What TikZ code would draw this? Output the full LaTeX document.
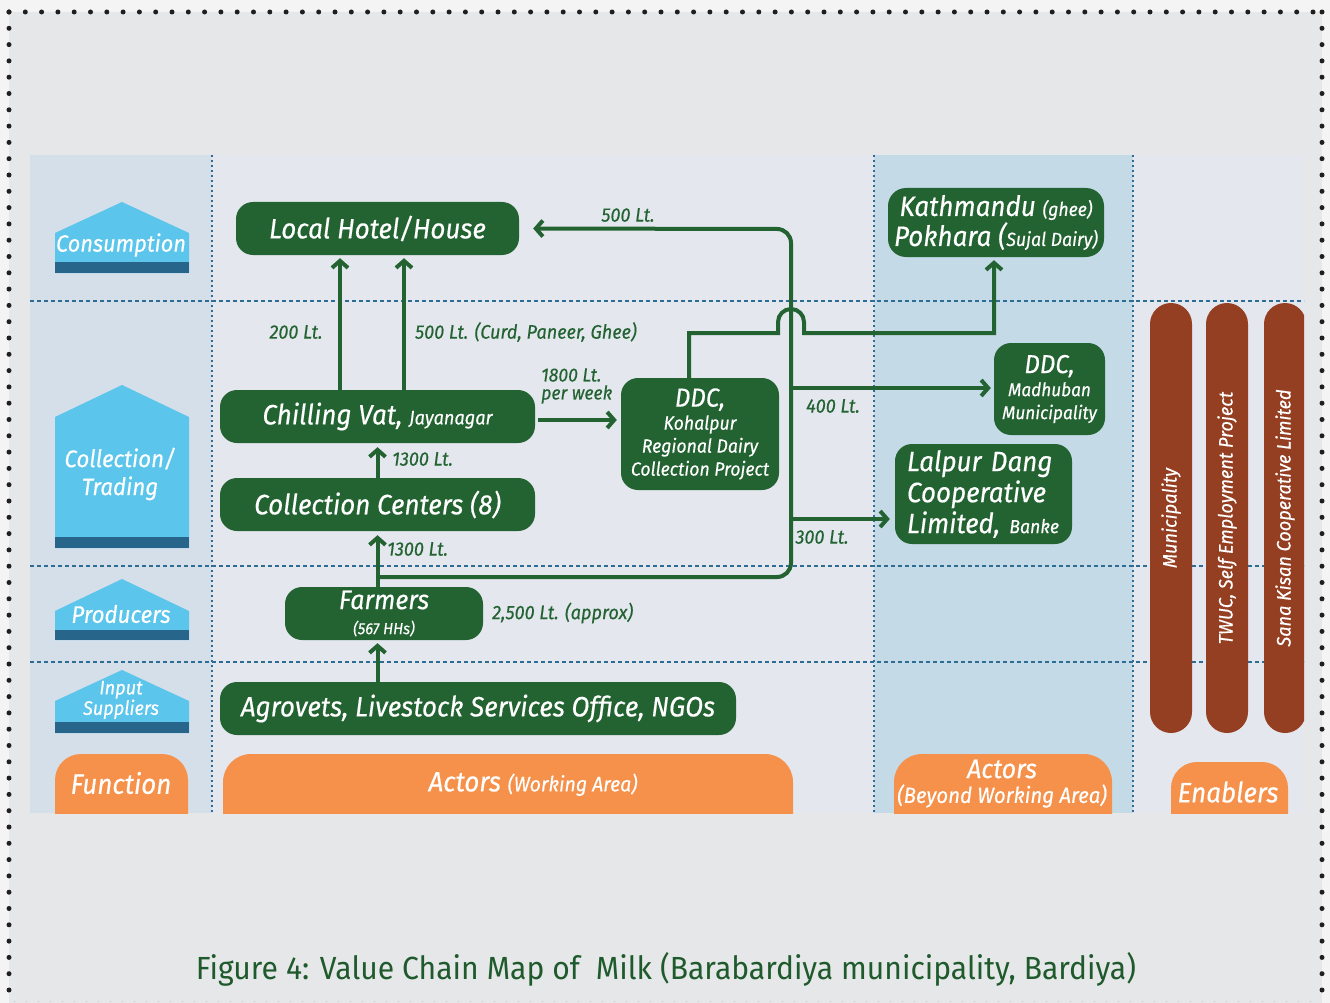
\documentclass[tikz,border=0pt]{standalone}
\usepackage{fontspec}
\setmainfont{Fira Sans}[FakeStretch=0.93, FakeBold=0.4]
\newfontfamily\capfont{Fira Sans}[FakeStretch=0.94]
\usetikzlibrary{arrows.meta}

\definecolor{pagebg}{HTML}{F3F4F3}
\definecolor{panelbg}{HTML}{E6E7E9}
\definecolor{colfn}{HTML}{D5DFEA}
\definecolor{colact}{HTML}{E4E7EE}
\definecolor{colbey}{HTML}{C4DAE7}
\definecolor{gridblue}{HTML}{2C6C95}
\definecolor{dgreen}{HTML}{236332}
\definecolor{houseblue}{HTML}{5BC5EB}
\definecolor{housebase}{HTML}{28658A}
\definecolor{orng}{HTML}{F5914A}
\definecolor{brick}{HTML}{953F22}
\definecolor{capgreen}{HTML}{1F5A2C}

\newcommand\fsXL{\fontsize{28}{33}\selectfont}
\newcommand\fsL{\fontsize{26}{30}\selectfont}
\newcommand\fsH{\fontsize{23.5}{26}\selectfont}
\newcommand\fsM{\fontsize{19}{23}\selectfont}
\newcommand\fsS{\fontsize{19.5}{22}\selectfont}
\newcommand\fsXS{\fontsize{16}{18}\selectfont}

\tikzset{
  gbox/.style={fill=dgreen, rounded corners=17pt, inner sep=0pt, text=white,
    align=center, font=\itshape\fsXL},
  flow/.style={draw=dgreen, line width=4pt,
    -{Straight Barb[length=7pt,width=16pt,line width=4pt]}},
  lbl/.style={text=dgreen, inner sep=0pt, font=\itshape\fsS},
  htext/.style={text=white, inner sep=0pt, align=center, font=\itshape\fsH},
  ttext/.style={text=white, inner sep=0pt, align=center, font=\itshape\fsXL},
  pillar/.style={fill=brick, rounded corners=21pt, inner sep=0pt, text=white,
    rotate=90, minimum height=42pt, minimum width=430pt, font=\itshape\fsS},
  hgrid/.style={draw=gridblue, line width=1.4pt, dash pattern=on 4pt off 3pt},
  vgrid/.style={draw=gridblue, line width=1.4pt, dash pattern=on 2pt off 3pt},
  dots/.style={draw=black!88, line width=5pt, line cap=round, dash pattern=on 0pt off 16.3pt}
}

\begin{document}
\begin{tikzpicture}[x=1pt,y=-1pt]
\useasboundingbox (0,0) rectangle (1330,1003);
\fill[pagebg] (0,0) rectangle (1330,1003);
\fill[panelbg] (9,12) rectangle (1322,1003);

% dotted frame
\draw[dots] (9,12) -- (1322,12);
\draw[dots] (9,12) -- (9,1003);
\draw[dots] (1322,12) -- (1322,1003);
\draw[black!25, line width=1pt, dash pattern=on 1pt off 11pt] (14,1001) -- (1320,1001);

\begin{scope}
\clip (30,155) rectangle (1304,813);
% columns
\fill[colfn] (30,155) rectangle (212,813);
\fill[colact] (212,155) rectangle (874,813);
\fill[colbey] (874,155) rectangle (1133,813);
\fill[colact] (1133,155) rectangle (1304,813);
% grid
\foreach \yy in {301,566,662} \draw[hgrid] (30,\yy) -- (1304,\yy);
\foreach \xx in {212,874,1133} \draw[vgrid] (\xx,155) -- (\xx,813);

% function houses
\fill[houseblue] (55,233) -- (122,202) -- (189,233) -- (189,273) -- (55,273) -- cycle;
\fill[housebase] (55,262) rectangle (189,273);
\fill[houseblue] (55,417) -- (122,385) -- (189,417) -- (189,548) -- (55,548) -- cycle;
\fill[housebase] (55,537) rectangle (189,548);
\fill[houseblue] (55,611) -- (122,579) -- (189,611) -- (189,640) -- (55,640) -- cycle;
\fill[housebase] (55,630) rectangle (189,640);
\fill[houseblue] (55,701) -- (122,670) -- (189,701) -- (189,733) -- (55,733) -- cycle;
\fill[housebase] (55,722) rectangle (189,733);
\node[htext] (fcons) at (121,245) {Consumption};
\node[htext, font=\itshape\fontsize{24}{28}\selectfont] (fcoll) at (120,474) {Collection/\\Trading};
\node[htext, font=\itshape\fontsize{24}{28}\selectfont] (fprod) at (121,614) {Producers};
\node[htext, font=\itshape\fontsize{19.5}{18}\selectfont] (finp) at (121,700) {Input\\Suppliers};

% bottom tabs
\fill[orng, rounded corners=26pt] (55,754) rectangle (188,870);
\fill[orng, rounded corners=28pt] (223,754) rectangle (793,870);
\fill[orng, rounded corners=28pt] (894,754) rectangle (1112,870);
\fill[orng, rounded corners=26pt] (1171,762) rectangle (1288,870);
\node[ttext] (tfun) at (121,783) {Function};
\node[ttext] (tact) at (533,784) {Actors {\fontsize{21}{24}\selectfont(Working Area)}};
\node[ttext, font=\itshape\fontsize{27}{27}\selectfont] (tbey) at (1002,769) {Actors};
\node[ttext, font=\itshape\fontsize{22}{24}\selectfont] (tbey2) at (1002,796) {(Beyond Working Area)};
\node[ttext] (tena) at (1228,792) {Enablers};

% enablers
\node[pillar] (en1) at (1171,518) {Municipality};
\node[pillar] (en2) at (1227,518) {TWUC, Self Employment Project};
\node[pillar] (en3) at (1285,518) {Sana Kisan Cooperative Limited};
\end{scope}

% actors
\node[gbox, minimum width=283pt, minimum height=53pt] (hotel) at (377.5,228.5) {Local Hotel/House};
\node[gbox, minimum width=315pt, minimum height=53pt] (chill) at (377.5,416.5) {Chilling Vat, {\fsS Jayanagar}};
\node[gbox, minimum width=315pt, minimum height=53pt] (cc) at (377.5,504.5) {Collection Centers (8)};
\node[gbox, minimum width=198pt, minimum height=53pt, font=\itshape\fontsize{27}{30}\selectfont] (farm) at (384,613.5) {Farmers\\[-5pt]{\fsXS (567 HHs)}};
\node[gbox, minimum width=516pt, minimum height=53pt] (agro) at (478,708.5) {Agrovets, Livestock Services Office, NGOs};
\node[gbox, minimum width=158pt, minimum height=112pt, font=\itshape\fsM] (koh) at (700,434) {{\fsL DDC,}\\Kohalpur\\Regional Dairy\\Collection Project};
\node[gbox, minimum width=216pt, minimum height=69pt, rounded corners=18pt] (ktm) at (996,222.5) {Kathmandu {\fsM(ghee)}\\[-3pt]Pokhara ({\fsM Sujal Dairy)}};
\node[gbox, minimum width=111pt, minimum height=92pt, font=\itshape\fontsize{18.5}{23}\selectfont] (mad) at (1049.5,389) {{\fsL DDC,}\\Madhuban\\Municipality};
\node[gbox, minimum width=177pt, minimum height=100pt, align=left, text width=153pt] (lal) at (983.5,494) {Lalpur Dang\\[-2pt]Cooperative\\[-2pt]Limited, {\fsM Banke}};

% flows
\draw[flow, shorten >=3pt] (chill.north -| 340,0) -- (hotel.south -| 340,0);
\draw[flow, shorten >=3pt] (chill.north -| 404,0) -- (hotel.south -| 404,0);
\draw[flow, shorten >=4pt] (cc.north) -- (chill.south);
\draw[flow, shorten >=4pt] (farm.north -| cc.south) -- (cc.south);
\draw[flow, shorten >=3pt] (agro.north -| cc.south) -- (farm.south -| cc.south);
\draw[flow, shorten <=3pt, shorten >=4pt] (chill.east |- 0,420) -- (koh.west |- 0,420);
\coordinate (split) at (377.5,577);
\coordinate (b400) at (791,388);
\coordinate (b300) at (791,519);
\draw[flow, rounded corners=14pt, shorten >=14pt] (split) -- (791,577) -- (791,229) -- (hotel.east);
\draw[flow, shorten >=3pt] (b400) -- (mad.west |- 0,388);
\draw[flow, shorten >=5pt] (b300) -- (lal.west |- 0,519);
\draw[flow, shorten >=3pt] (koh.north -| 689,0) -- (689,333) -- (778,333) -- (778,322)
  .. controls (778,314.8) and (783.8,309) .. (791,309)
  .. controls (798.2,309) and (804,314.8) .. (804,322) -- (804,333) -- (994,333) -- (ktm.south -| 994,0);

% flow labels
\node[lbl] (l500a) at (628,215) {500 Lt.};
\node[lbl] (l200) at (296,332) {200 Lt.};
\node[lbl, anchor=west] (l500b) at (415,332) {500 Lt. (Curd, Paneer, Ghee)};
\node[lbl, anchor=west, align=left, font=\itshape\fontsize{19}{18}\selectfont] (l1800) at (541,386) {1800 Lt.\\per week};
\node[lbl] (l400) at (833,406) {400 Lt.};
\node[lbl] (l300) at (822,537) {300 Lt.};
\node[lbl, anchor=west] (l1300a) at (392,459) {1300 Lt.};
\node[lbl, anchor=west] (l1300b) at (387,549) {1300 Lt.};
\node[lbl, anchor=west] (l2500) at (492,613) {2,500 Lt. (approx)};

% caption
\node[text=capgreen, inner sep=0pt, font=\capfont\fontsize{32}{36}\selectfont] (cap) at (666,969) {Figure 4: Value Chain Map of \ Milk (Barabardiya municipality, Bardiya)};
\end{tikzpicture}
\end{document}
